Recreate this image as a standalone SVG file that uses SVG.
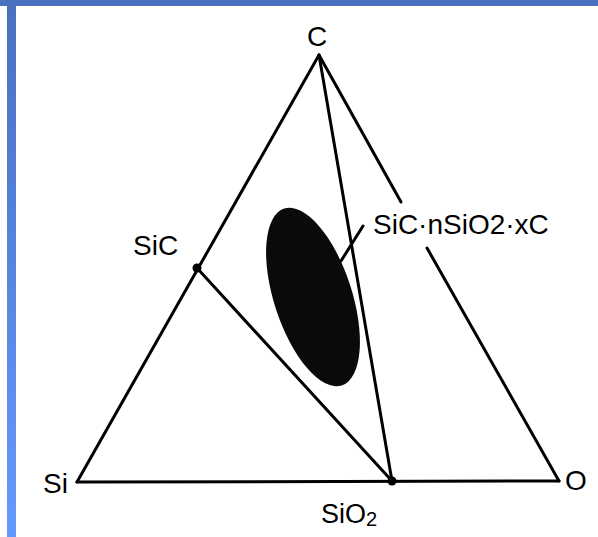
<svg xmlns="http://www.w3.org/2000/svg" width="598" height="537" viewBox="0 0 598 537">
<defs>
<linearGradient id="bar" x1="0" y1="0" x2="0" y2="1">
<stop offset="0" stop-color="#4a70bf"/>
<stop offset="1" stop-color="#6699ff"/>
</linearGradient>
<style>
.ln{stroke:#000;stroke-width:3;fill:none;stroke-linecap:round}
.t{font-family:"Liberation Sans",Arial,sans-serif;font-size:28px;fill:#000}
.dot{fill:#000}
</style>
</defs>
<rect x="0" y="0" width="598" height="537" fill="#fff"/>
<g id="frame">
<rect x="0" y="0" width="598" height="6" fill="#4a70bf"/>
<rect x="7" y="0" width="9" height="537" fill="url(#bar)"/>
</g>
<g id="region">
<ellipse cx="313" cy="297" rx="39" ry="93" transform="rotate(-18 313 297)" fill="#0a0a0a"/>
</g>
<g id="connectors">
<line class="ln" x1="319" y1="55" x2="77" y2="482"/>
<line class="ln" x1="77" y1="482" x2="559" y2="481"/>
<line class="ln" x1="319" y1="55" x2="401" y2="202"/>
<line class="ln" x1="427" y1="248" x2="559" y2="481"/>
<line class="ln" x1="197" y1="268" x2="392" y2="481"/>
<line class="ln" x1="319" y1="55" x2="392" y2="481"/>
<line class="ln" x1="363" y1="226" x2="341" y2="261"/>
</g>
<g id="node-C"><text class="t" x="307" y="46">C</text></g>
<g id="node-Si"><text class="t" x="43" y="493">Si</text></g>
<g id="node-O"><text class="t" x="565" y="490">O</text></g>
<g id="node-SiC"><circle class="dot" cx="197" cy="268" r="4.5"/><text class="t" x="133" y="255">SiC</text></g>
<g id="node-SiO2"><circle class="dot" cx="392" cy="481" r="4.5"/><text class="t" x="321" y="523" style="font-size:27px">SiO<tspan style="font-size:20px" dy="3">2</tspan></text></g>
<g id="node-label"><text class="t" x="373" y="234">SiC·nSiO2·xC</text></g>
</svg>
